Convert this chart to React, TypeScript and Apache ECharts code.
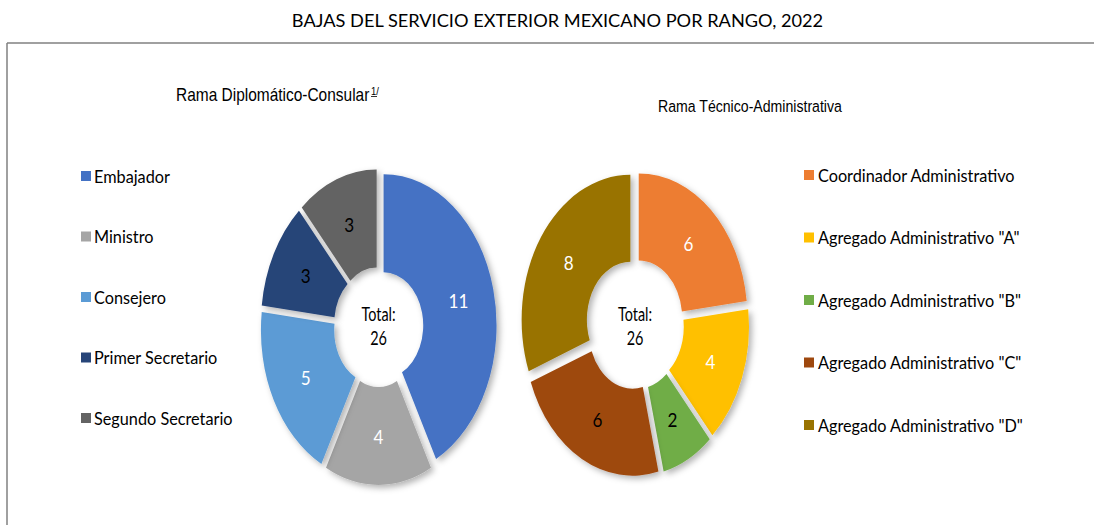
import React, { useEffect, useRef } from "react";
import * as echarts from "echarts";

const chartTitle = "BAJAS DEL SERVICIO EXTERIOR MEXICANO POR RANGO, 2022";
const leftTitle = "Rama Diplomático-Consular";
const leftNote = "1/";
const rightTitle = "Rama Técnico-Administrativa";
const totalLabel = "Total:";

const leftCategories = ["Embajador", "Ministro", "Consejero", "Primer Secretario", "Segundo Secretario"];
const leftValues = [11, 4, 5, 3, 3];
const leftColors = ["#4472C4", "#A5A5A5", "#5B9BD5", "#264478", "#636363"];
const leftLabelColors = ["#ffffff", "#ffffff", "#ffffff", "#000000", "#000000"];

const rightCategories = [
  "Coordinador Administrativo",
  'Agregado Administrativo "A"',
  'Agregado Administrativo "B"',
  'Agregado Administrativo "C"',
  'Agregado Administrativo "D"',
];
const rightValues = [6, 4, 2, 6, 8];
const rightColors = ["#ED7D31", "#FFC000", "#70AD47", "#9E480E", "#997300"];
const rightLabelColors = ["#ffffff", "#ffffff", "#000000", "#000000", "#ffffff"];

const CAL = "Lato, 'Open Sans', sans-serif";
const NARROW = "'Liberation Sans', Arial, sans-serif";

type Geom = { cx: number; cy: number; rx: number; ry: number; ry0: number; explode: number; labelR: number };

const leftGeom: Geom = { cx: 378.5, cy: 327, rx: 113, ry: 151, ry0: 53, explode: 7, labelR: 103 };
const rightGeom: Geom = { cx: 635, cy: 324, rx: 108.7, ry: 145, ry0: 58, explode: 7.5, labelR: 100 };

function sum(a: number[]) {
  return a.reduce((s, v) => s + v, 0);
}

function makeRender(values: number[], colors: string[], labelColors: string[], g: Geom) {
  const total = sum(values);
  const k = g.rx / g.ry;
  return (params: any, api: any) => {
    const i = params.dataIndex;
    const v = api.value(0);
    let before = 0;
    for (let j = 0; j < i; j++) before += values[j];
    const a0 = -Math.PI / 2 + (before / total) * Math.PI * 2;
    const a1 = a0 + (v / total) * Math.PI * 2;
    const mid = (a0 + a1) / 2;
    const x = g.cx + g.explode * k * Math.cos(mid);
    const y = g.cy + g.explode * Math.sin(mid);
    return {
      type: "group",
      children: [
        {
          type: "sector",
          x,
          y,
          scaleX: k,
          shape: { cx: 0, cy: 0, r: g.ry, r0: g.ry0, startAngle: a0, endAngle: a1, clockwise: true },
          style: {
            fill: colors[i],
            shadowBlur: 6,
            shadowOffsetX: 3,
            shadowOffsetY: 3,
            shadowColor: "rgba(0,0,0,0.3)",
          },
        },
        {
          type: "text",
          x: x + g.labelR * k * Math.cos(mid),
          y: y + g.labelR * Math.sin(mid),
          scaleX: 0.9,
          style: {
            text: String(v),
            fill: labelColors[i],
            fontSize: 19,
            fontFamily: CAL,
            align: "center",
            verticalAlign: "middle",
          },
        },
      ],
    };
  };
}

function legendGraphics(cats: string[], colors: string[], mx: number, tx: number, y0: number, gap: number) {
  const out: any[] = [];
  cats.forEach((c, i) => {
    const y = y0 + gap * i;
    out.push({ type: "rect", left: mx, top: y - 5, shape: { width: 10, height: 10 }, style: { fill: colors[i] } });
    out.push({
      type: "text",
      x: tx,
      y,
      scaleX: 0.93,
      style: { text: c, fill: "#000", fontSize: 17.5, fontFamily: CAL, align: "left", verticalAlign: "middle" },
    });
  });
  return out;
}

function totalGraphic(x: number, values: number[]) {
  return {
    type: "text",
    x,
    y: 326.5,
    scaleX: 0.78,
    style: {
      text: totalLabel + "\n" + sum(values),
      fill: "#000",
      fontSize: 18.5,
      fontFamily: CAL,
      lineHeight: 24,
      align: "center",
      verticalAlign: "middle",
    },
  };
}

export default function App() {
  const ref = useRef<HTMLDivElement>(null);
  useEffect(() => {
    document.body.style.margin = "0";
    const chart = echarts.init(ref.current!, undefined, { renderer: "svg" });
    chart.setOption({
      animation: false,
      backgroundColor: "#ffffff",
      graphic: [
        { type: "line", shape: { x1: 7, y1: 43, x2: 1094, y2: 43 }, style: { stroke: "#808080", lineWidth: 1.5 } },
        { type: "line", shape: { x1: 7, y1: 43, x2: 7, y2: 525 }, style: { stroke: "#808080", lineWidth: 1.5 } },
        {
          type: "text",
          x: 557.5,
          y: 20,
          style: { text: chartTitle, fill: "#000", fontSize: 18.2, fontFamily: CAL, align: "center", verticalAlign: "middle" },
        },
        {
          type: "text",
          x: 176,
          y: 95,
          scaleX: 0.86,
          style: { text: leftTitle, fill: "#000", fontSize: 18, fontFamily: NARROW, align: "left", verticalAlign: "middle" },
        },
        {
          type: "text",
          x: 371,
          y: 91,
          scaleX: 0.86,
          style: { text: leftNote, fill: "#000", fontSize: 11, fontFamily: NARROW, align: "left", verticalAlign: "middle" },
        },
        { type: "line", shape: { x1: 371, y1: 96.5, x2: 377, y2: 96.5 }, style: { stroke: "#000", lineWidth: 0.8 } },
        {
          type: "text",
          x: 658,
          y: 106,
          scaleX: 0.83,
          style: { text: rightTitle, fill: "#000", fontSize: 17, fontFamily: NARROW, align: "left", verticalAlign: "middle" },
        },
        ...legendGraphics(leftCategories, leftColors, 81, 94, 176, 60.5),
        ...legendGraphics(rightCategories, rightColors, 804, 818, 175, 62.5),
        totalGraphic(leftGeom.cx, leftValues),
        totalGraphic(rightGeom.cx, rightValues),
      ],
      series: [
        {
          type: "custom",
          name: leftTitle,
          coordinateSystem: "none",
          renderItem: makeRender(leftValues, leftColors, leftLabelColors, leftGeom),
          data: leftValues.map((v, i) => ({ name: leftCategories[i], value: [v] })),
        },
        {
          type: "custom",
          name: rightTitle,
          coordinateSystem: "none",
          renderItem: makeRender(rightValues, rightColors, rightLabelColors, rightGeom),
          data: rightValues.map((v, i) => ({ name: rightCategories[i], value: [v] })),
        },
      ],
    });
    return () => chart.dispose();
  }, []);
  return <div ref={ref} style={{ width: 1094, height: 525 }} />;
}
